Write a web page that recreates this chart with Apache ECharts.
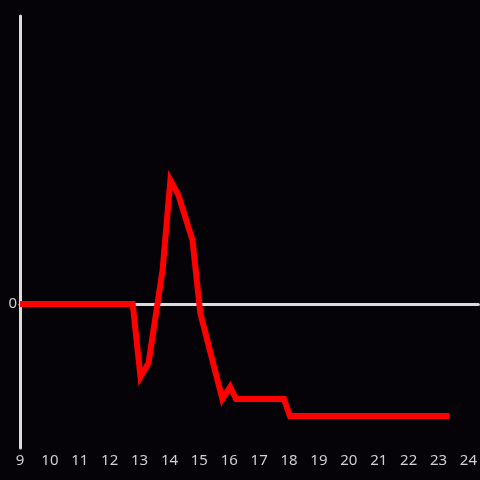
<!DOCTYPE html>
<html><head><meta charset="utf-8">
<script src="https://cdn.jsdelivr.net/npm/echarts@6/dist/echarts.min.js"></script>
<style>html,body{margin:0;padding:0;background:#050307;}#c{width:480px;height:480px;}</style>
</head><body><div id="c"></div>
<script>
const hours = [9, 12.77, 13.03, 13.3, 13.77, 14.03, 14.3, 14.77, 15.03, 15.77, 16.03, 16.23, 17.83, 18.03, 23.37];
const values = [0, 0, -25.3, -20.5, 11.8, 43, 37.8, 22.2, -3.1, -33, -28.8, -33, -33, -38.9, -38.9];
const xTicks = [9,10,11,12,13,14,15,16,17,18,19,20,21,22,23,24];

const chart = echarts.init(document.getElementById('c'));
const axisColor = '#dcdcdc';
const labelColor = '#d0d0d0';
chart.setOption({
  backgroundColor: '#050307',
  animation: false,
  grid: {left: 20, right: 0, top: 16, bottom: 32},
  xAxis: [{
    type: 'value', min: 9, max: 24 + 1/3, interval: 1, position: 'bottom',
    axisLine: {show: false, onZero: false}, axisTick: {show: false}, splitLine: {show: false},
    axisLabel: {color: labelColor, fontSize: 15, fontFamily: 'Noto Sans', margin: 5, showMaxLabel: false,
      formatter: v => xTicks.includes(v) ? String(v) : ''}
  }, {
    type: 'value', min: 9, max: 24 + 1/3, interval: 1,
    axisLine: {show: true, onZero: true, lineStyle: {color: axisColor, width: 3}},
    axisTick: {show: false}, axisLabel: {show: false}, splitLine: {show: false}
  }],
  yAxis: {
    type: 'value', min: -50, max: 100, interval: 50,
    axisLine: {show: true, onZero: false, lineStyle: {color: axisColor, width: 3}},
    axisTick: {show: false}, splitLine: {show: false},
    axisLabel: {color: labelColor, fontSize: 15, fontFamily: 'Noto Sans', margin: 3,
      formatter: v => v === 0 ? '0' : ''}
  },
  series: [{
    type: 'line', xAxisIndex: 0, data: hours.map((h, i) => [h, values[i]]),
    showSymbol: false, z: 5,
    lineStyle: {color: '#ff0000', width: 6, join: 'miter'}
  }]
});
</script></body></html>
